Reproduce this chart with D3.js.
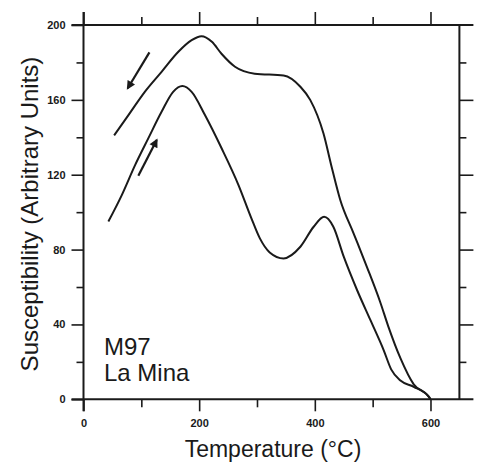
<!DOCTYPE html>
<html>
<head>
<meta charset="utf-8">
<script src="https://cdn.jsdelivr.net/npm/d3@7"></script>
<style>
  body { margin: 0; background: #fff; }
  svg { display: block; font-family: Arial, "Liberation Sans", sans-serif; }
</style>
</head>
<body>
<svg id="chart" width="478" height="468"></svg>
<script>
// heating run (lower curve)
const heatingT = [43, 66, 89, 112, 135, 155, 171, 187, 210, 239, 268, 290, 305, 322, 346, 375, 398, 416, 432, 450, 473, 496, 519, 532, 548, 571, 597, 600];
const heatingK = [95, 109, 125, 139.4, 153.6, 164.3, 167.4, 164.3, 151.9, 134, 114.5, 97, 86, 78.5, 75.3, 81.5, 92.2, 97.5, 92.2, 76.2, 58.4, 42.4, 26.3, 16, 10, 6.7, 1.4, 0];
// cooling run (upper curve)
const coolingT = [53, 78, 106, 135, 164, 187, 204, 222, 239, 262, 296, 346, 375, 392, 415, 429, 444, 467, 490, 513, 527, 548, 571, 597, 600];
const coolingK = [141, 152, 164.3, 175, 185.7, 191.9, 194, 191, 184.5, 177.7, 174, 173, 167, 160, 142, 124.3, 106.5, 88.7, 70.8, 52, 39, 22, 8, 1.4, 0];
// arrows [T0, K0, T1, K1]
const arrowDown = [114, 185.4, 76.5, 166.2];
const arrowUp = [94.8, 119.4, 126.6, 138.5];

const xMajor = [0, 200, 400, 600], xMinor = [100, 300, 500];
const yMajor = [0, 40, 80, 120, 160, 200], yMinor = [20, 60, 100, 140, 180];

const svg = d3.select('#chart');
const x = d3.scaleLinear([0, 650], [83.5, 459.4]);
const y = d3.scaleLinear([0, 200], [399.3, 25]);

const ink = '#1a1a1a';

svg.append('defs').append('marker')
    .attr('id', 'head')
    .attr('viewBox', '0 0 10 10')
    .attr('refX', 8).attr('refY', 5)
    .attr('markerWidth', 4.5).attr('markerHeight', 4)
    .attr('orient', 'auto')
  .append('path')
    .attr('d', 'M0,0 L10,5 L0,10 z')
    .attr('fill', ink);

// axes
const tickFont = g => g.selectAll('text')
    .attr('font-size', 11).attr('font-weight', 'bold').attr('fill', ink)
    .attr('font-family', 'Arial, "Liberation Sans", sans-serif');
const strip = g => { g.select('.domain').remove(); g.selectAll('line').attr('stroke', ink).attr('stroke-width', 1.6); };

svg.append('g').attr('transform', `translate(0,${y(0)})`)
    .call(d3.axisBottom(x).tickValues(xMajor).tickSize(12).tickPadding(8))
    .call(strip).call(tickFont);
svg.append('g').attr('transform', `translate(0,${y(0)})`)
    .call(d3.axisBottom(x).tickValues(xMinor).tickSize(8).tickFormat(''))
    .call(strip);
svg.append('g').attr('transform', `translate(0,${y(200)})`)
    .call(d3.axisTop(x).tickValues(xMajor).tickSize(13).tickFormat(''))
    .call(strip);
svg.append('g').attr('transform', `translate(0,${y(200)})`)
    .call(d3.axisTop(x).tickValues(xMinor).tickSize(8).tickFormat(''))
    .call(strip);
svg.append('g').attr('transform', `translate(${x(0)},0)`)
    .call(d3.axisLeft(y).tickValues(yMajor).tickSize(12).tickPadding(6))
    .call(strip).call(tickFont);
svg.append('g').attr('transform', `translate(${x(0)},0)`)
    .call(d3.axisLeft(y).tickValues(yMinor).tickSize(7).tickFormat(''))
    .call(strip);
svg.append('g').attr('transform', `translate(${x(650)},0)`)
    .call(d3.axisRight(y).tickValues(yMajor.slice(1, 5)).tickSize(14).tickFormat(''))
    .call(strip);
svg.append('g').attr('transform', `translate(${x(650)},0)`)
    .call(d3.axisRight(y).tickValues(yMinor).tickSize(7).tickFormat(''))
    .call(strip);

// frame lines
const frame = svg.append('g').attr('stroke', ink).attr('stroke-width', 2);
frame.append('line').attr('x1', x(0) - 12).attr('x2', x(650) + 14).attr('y1', y(0)).attr('y2', y(0));
frame.append('line').attr('x1', x(0) - 12).attr('x2', x(650) + 14).attr('y1', y(200)).attr('y2', y(200));
frame.append('line').attr('x1', x(0)).attr('x2', x(0)).attr('y1', y(200) - 13).attr('y2', y(0) + 12);
frame.append('line').attr('x1', x(650)).attr('x2', x(650)).attr('y1', y(200)).attr('y2', y(0));

// curves
const line = d3.line().x(d => x(d[0])).y(d => y(d[1])).curve(d3.curveMonotoneX);
[[heatingT, heatingK], [coolingT, coolingK]].forEach(([t, k]) => {
  svg.append('path')
      .datum(t.map((v, i) => [v, k[i]]))
      .attr('d', line)
      .attr('fill', 'none')
      .attr('stroke', ink)
      .attr('stroke-width', 2)
      .attr('stroke-linejoin', 'round');
});

[arrowDown, arrowUp].forEach(a => {
  svg.append('line')
      .attr('x1', x(a[0])).attr('y1', y(a[1]))
      .attr('x2', x(a[2])).attr('y2', y(a[3]))
      .attr('stroke', ink).attr('stroke-width', 2.2)
      .attr('marker-end', 'url(#head)');
});

// labels
svg.append('text')
    .attr('x', 273).attr('y', 457)
    .attr('text-anchor', 'middle')
    .attr('font-size', 23).attr('fill', ink)
    .text('Temperature (°C)');
svg.append('text')
    .attr('transform', 'translate(38,214) rotate(-90)')
    .attr('text-anchor', 'middle')
    .attr('font-size', 24).attr('fill', ink)
    .text('Susceptibility (Arbitrary Units)');
const note = svg.append('text').attr('font-size', 24).attr('fill', ink);
note.append('tspan').attr('x', 104).attr('y', 355).text('M97');
note.append('tspan').attr('x', 104).attr('y', 381).text('La Mina');
</script>
</body>
</html>
